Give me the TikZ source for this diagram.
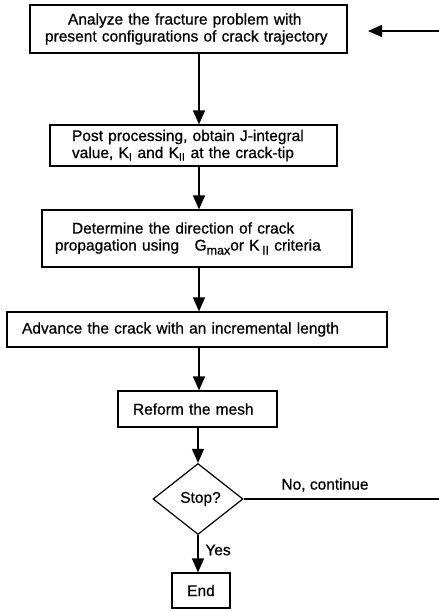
\documentclass[tikz,border=0pt]{standalone}
\usepackage{fontspec}
\setmainfont{Liberation Sans}[FakeBold=0.7]
\usetikzlibrary{arrows.meta,shapes.geometric,calc}
\begin{document}
\begin{tikzpicture}[x=1pt,y=-1pt,
  box/.style={draw, line width=1.2pt, inner xsep=0pt, inner ysep=0pt, font=\fontsize{15.5}{17}\selectfont},
  flow/.style={line width=1.4pt, -{Triangle[length=14pt,width=12pt]}},
  lbl/.style={font=\fontsize{15.5}{17}\selectfont, inner sep=0pt}]
\useasboundingbox (0,0) rectangle (439,611);
\coordinate (ax) at (199,0);
\node[box, minimum width=317pt, minimum height=48pt, text width=287pt, align=left] (b1) at (188.5,29)
  {\hspace*{23pt}Analyze the fracture problem with\\present configurations of crack trajectory};
\node[box, minimum width=287pt, minimum height=41pt, text width=243pt, align=left] (b2) at (193.5,145.5)
  {Post processing, obtain J-integral\\value, K\textsubscript{I} and K\textsubscript{II} at the crack-tip};
\node[box, minimum width=310pt, minimum height=57pt, text width=284pt, align=left] (b3) at (197,238.5)
  {\hspace*{17pt}Determine the direction of crack\\propagation using\quad G\raisebox{-4pt}{\fontsize{12.5}{13}\selectfont max}or K\,\raisebox{-4pt}{\fontsize{12.5}{13}\selectfont II} criteria};
\node[box, minimum width=380pt, minimum height=35pt, text width=350pt, align=left] (b4) at (197,329.5)
  {Advance the crack with an incremental length};
\node[box, minimum width=159pt, minimum height=36pt, text width=129pt, align=left] (b5) at (197.5,409)
  {Reform the mesh};
\node[box, diamond, minimum width=90pt, minimum height=71pt, aspect=1.27] (stop) at (198,499) {\hspace*{5pt}Stop?};
\node[box, minimum width=58pt, minimum height=35pt, align=center] (end) at (201,590.5) {End};
\coordinate (ret) at (368,31);
\coordinate (rc) at (452,31);
\draw[flow] (b1.south -| ax) -- (b2.north -| ax);
\draw[flow] (b2.south -| ax) -- (b3.north -| ax);
\draw[flow] (b3.south -| ax) -- (b4.north -| ax);
\draw[flow] (b4.south -| ax) -- (b5.north -| ax);
\draw[flow] (b5.south -| stop.north) -- (stop.north);
\draw[flow] (stop.south) -- (end.north -| stop.south);
\draw[flow] (stop.east) -| (rc) -- (ret);
\node[lbl] (no) at (325,485) {No, continue};
\node[lbl] (yes) at (218,550) {Yes};
\end{tikzpicture}
\end{document}
